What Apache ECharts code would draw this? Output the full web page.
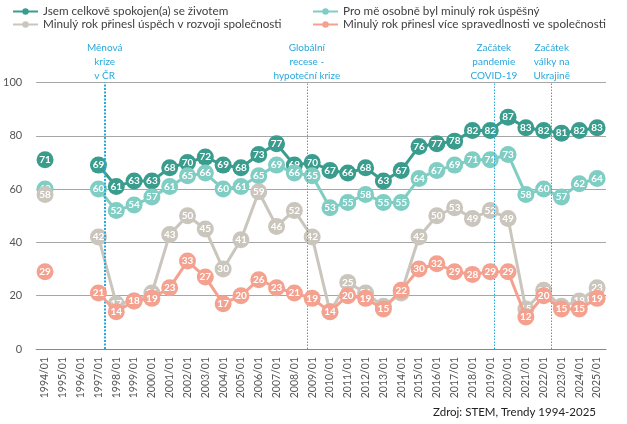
<!DOCTYPE html>
<html><head><meta charset="utf-8">
<script src="https://cdn.jsdelivr.net/npm/echarts@6/dist/echarts.min.js"></script>
<style>html,body{margin:0;padding:0;background:#fff}#c{width:627px;height:424px}</style>
</head><body><div id="c"></div>
<script>
const categories = ['1994/01','1995/01','1996/01','1997/01','1998/01','1999/01','2000/01','2001/01','2002/01','2003/01','2004/01','2005/01','2006/01','2007/01','2008/01','2009/01','2010/01','2011/01','2012/01','2013/01','2014/01','2015/01','2016/01','2017/01','2018/01','2019/01','2020/01','2021/01','2022/01','2023/01','2024/01','2025/01'];
const seriesNames = ['Jsem celkově spokojen(a) se životem','Pro mě osobně byl minulý rok úspěšný','Minulý rok přinesl úspěch v rozvoji společnosti','Minulý rok přinesl více spravedlnosti ve společnosti'];
const satisfied = [71,null,null,69,61,63,63,68,70,72,69,68,73,77,69,70,67,66,68,63,67,76,77,78,82,82,87,83,82,81,82,83];
const personal  = [60,null,null,60,52,54,57,61,65,66,60,61,65,69,66,65,53,55,58,55,55,64,67,69,71,71,73,58,60,57,62,64];
const society   = [58,null,null,42,17,18,21,43,50,45,30,41,59,46,52,42,14,25,21,16,21,42,50,53,49,52,49,15,22,16,18,23];
const justice   = [29,null,null,21,14,18,19,23,33,27,17,20,26,23,21,19,14,20,19,15,22,30,32,29,28,29,29,12,20,15,15,19];
const yTicks = [0,20,40,60,80,100];
// events: label text and position in category-index units
const events = [
  {text:'Měnová\nkrize\nv ČR', at:3.35, width:2},
  {text:'Globální\nrecese -\nhypoteční krize', at:14.7, width:1},
  {text:'Začátek\npandemie\nCOVID-19', at:25.2, width:1},
  {text:'Začátek\nválky na\nUkrajině', at:28.45, width:1}
];
const colors = ['#3a9c8d','#80cdc4','#cac6bd','#f5a18f'];
const FONT = 'Lato, "Open Sans", sans-serif';

const chart = echarts.init(document.getElementById('c'));
const values = [satisfied, personal, society, justice];
const lineSeries = values.map((d,i)=>({
  name: seriesNames[i], type:'line', data:d, color:colors[i],
  symbol:'circle', symbolSize:17, lineStyle:{width:3, color:colors[i]},
  itemStyle:{color:colors[i]}, z: 2+i,
  label:{show:true, position:'inside', color:'#fff', fontSize:10, fontWeight:'bold', fontFamily:FONT},
  emphasis:{disabled:true}, animation:false
}));
const evtSeries = {
  type:'line', xAxisIndex:1, yAxisIndex:0, data:[], silent:true, animation:false,
  markLine:{
    symbol:['none','none'], silent:true, animation:false,
    data: events.map(e=>({xAxis:e.at, lineStyle:{width:e.width, type: e.width>1?[2,1.5]:[1.5,1.5], color:'#29a8dc'},
      label:{formatter:e.text}})),
    label:{show:true, position:'end', distance:0, color:'#29a8dc', fontSize:10, lineHeight:14, fontFamily:FONT, align:'center'}
  }
};
const legendBase = {itemWidth:25, itemHeight:8, textStyle:{fontSize:11.7, color:'#404040', fontFamily:FONT}, itemGap:10, selectedMode:false, padding:0};
chart.setOption({
  animation:false,
  textStyle:{fontFamily:FONT},
  legend:[
    Object.assign({left:12, top:5.5, data:[seriesNames[0]]}, legendBase),
    Object.assign({left:312, top:5.5, data:[seriesNames[1]]}, legendBase),
    Object.assign({left:12, top:18.5, data:[seriesNames[2]]}, legendBase),
    Object.assign({left:312, top:18.5, data:[seriesNames[3]]}, legendBase)
  ],
  title:{text:'Zdroj: STEM, Trendy 1994-2025', right:26, bottom:1, textStyle:{fontSize:11.5, fontWeight:'normal', color:'#222', fontFamily:FONT}},
  grid:{left:33, right:21, top:82.5, bottom:75, containLabel:false},
  xAxis:[
    {type:'category', data:categories, boundaryGap:true,
     axisLine:{lineStyle:{color:'#888', width:1}}, axisTick:{show:false},
     axisLabel:{rotate:90, fontSize:10.5, color:'#555', interval:0, margin:8, fontFamily:FONT}},
    {type:'value', min:-0.5, max:31.5, show:false}
  ],
  yAxis:{type:'value', min:0, max:100, interval:20,
    axisLine:{show:false}, axisTick:{show:false},
    splitLine:{lineStyle:{color:'#a6a6a6', width:1}},
    axisLabel:{fontSize:11, color:'#555', margin:14, fontFamily:FONT, formatter:v=>yTicks.includes(v)?String(v):''}},
  series: lineSeries.concat([evtSeries])
});
</script></body></html>
